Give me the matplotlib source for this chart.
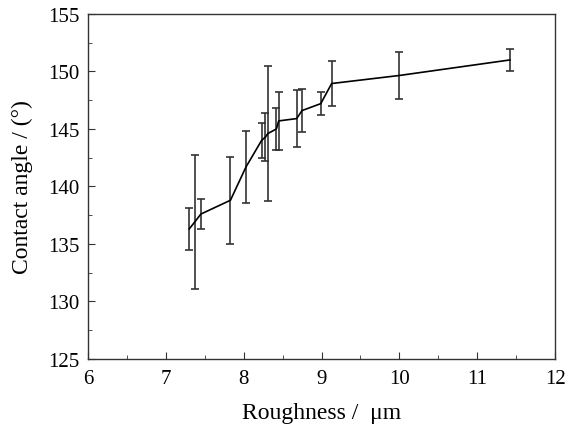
import matplotlib
matplotlib.use("Agg")
import matplotlib.pyplot as plt
from matplotlib.ticker import MultipleLocator

# roughness (um), contact angle (deg) and its error
roughness = [7.30, 7.37, 7.45, 7.83, 8.03, 8.23, 8.28, 8.31,
             8.42, 8.45, 8.68, 8.75, 8.99, 9.13, 10.0, 11.42]
angle = [136.3, 136.9, 137.6, 138.8, 141.7, 144.0, 144.3, 144.6,
         145.0, 145.7, 145.9, 146.6, 147.2, 148.95, 149.65, 151.0]
angle_err = [1.8, 5.8, 1.3, 3.8, 3.1, 1.55, 2.1, 5.9,
             1.85, 2.55, 2.45, 1.9, 1.0, 1.95, 2.05, 0.93]

plt.rcParams['font.family'] = ['Liberation Serif', 'DejaVu Serif']

fig = plt.figure(figsize=(5.74, 4.27), dpi=100)
ax = fig.add_axes([0.1533, 0.157, 0.8137, 0.808])

ax.errorbar(roughness, angle, yerr=angle_err, color='black', lw=1.2,
            ecolor='#333333', elinewidth=1.2, capsize=3, capthick=1.2)

ax.set_xlim(6, 12)
ax.set_ylim(125, 155)
ax.xaxis.set_major_locator(MultipleLocator(1))
ax.xaxis.set_minor_locator(MultipleLocator(0.5))
ax.yaxis.set_major_locator(MultipleLocator(5))
ax.yaxis.set_minor_locator(MultipleLocator(2.5))
ax.tick_params(which='both', direction='in', labelsize=15, color='#333333')
ax.tick_params(which='major', length=5)
ax.tick_params(which='minor', length=3)
ax.tick_params(axis='x', which='major', pad=7.5)
ax.tick_params(axis='y', which='major', pad=6)
for s in ax.spines.values():
    s.set_color('#333333')
    s.set_linewidth(1.0)

ax.set_xlabel('Roughness /  \u03bcm', fontsize=17)
ax.set_ylabel('Contact angle / (\u00b0)', fontsize=17)
ax.xaxis.set_label_coords(0.5, -0.125)
ax.yaxis.set_label_coords(-0.118, 0.5)

fig.savefig('out.png', dpi=100)
